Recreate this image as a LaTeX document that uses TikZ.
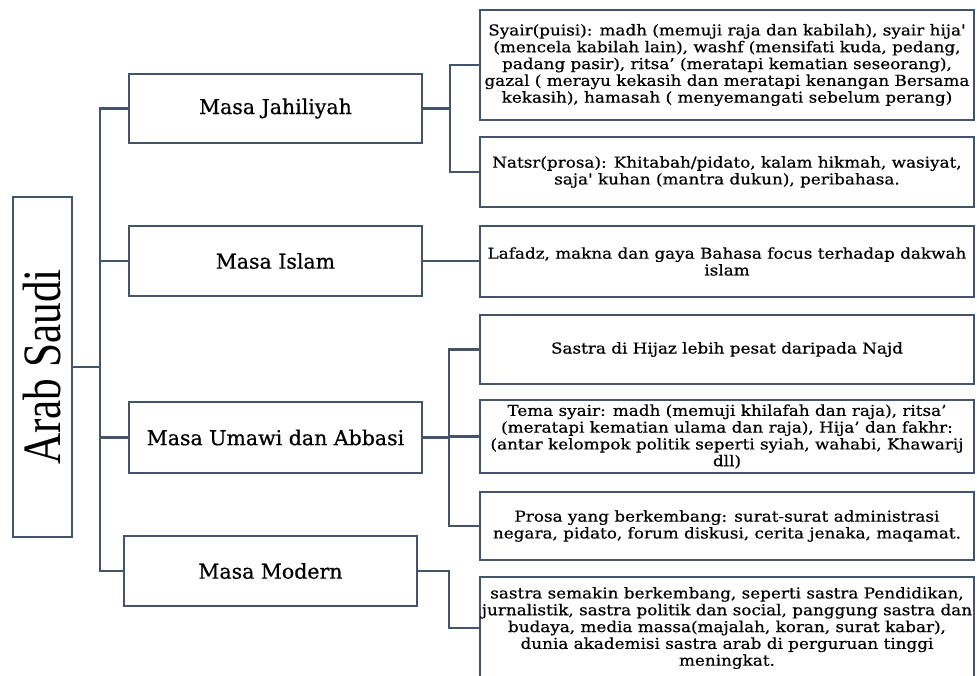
\documentclass[tikz,border=0pt]{standalone}
\usepackage{fontspec}
\setmainfont{DejaVu Serif}[FakeBold=0.5]
\newfontfamily\boxfont{DejaVu Serif}[FakeStretch=1.12,FakeBold=0.6]
\newfontfamily\masafont{DejaVu Serif}[FakeBold=0.6]
\newfontfamily\rootfont{Liberation Serif}[FakeStretch=0.8]
\definecolor{lineblue}{HTML}{44546A}
\begin{document}
\begin{tikzpicture}[x=1pt,y=-1pt,
  box/.style={draw=lineblue, line width=2.2pt, fill=white, inner sep=0pt, align=center, text=black},
  masabox/.style={box, minimum width=293pt, minimum height=70pt, font=\masafont\fontsize{20.5}{23}\selectfont},
  infobox/.style={box, minimum width=494pt, font=\boxfont\fontsize{15}{16.8}\selectfont},
  link/.style={draw=lineblue, line width=2.2pt}]
\useasboundingbox (0,0) rectangle (977,675);
\fill[white] (0,0) rectangle (977,675);

% root
\node[box, minimum width=59pt, minimum height=340pt] (root) at (42.5,367)
  {\rotatebox{90}{\rootfont\fontsize{54}{54}\selectfont Arab Saudi}};

% periods
\node[masabox, minimum height=69pt] (jah) at (275.5,108.5) {Masa Jahiliyah};
\node[masabox] (isl) at (275.5,261) {Masa Islam};
\node[masabox, minimum height=71pt] (uma) at (275.5,437.5) {Masa Umawi dan Abbasi};
\node[masabox] (mod) at (270.5,571) {Masa Modern};

% details
\node[infobox, minimum height=110pt] (b1) at (727,65) {Syair(puisi): madh (memuji raja dan kabilah), syair hija'\\(mencela kabilah lain), washf (mensifati kuda, pedang,\\padang pasir), ritsa’ (meratapi kematian seseorang),\\gazal ( merayu kekasih dan meratapi kenangan Bersama\\kekasih), hamasah ( menyemangati sebelum perang)};
\node[infobox, minimum height=70pt] (b2) at (727,172) {Natsr(prosa): Khitabah/pidato, kalam hikmah, wasiyat,\\saja' kuhan (mantra dukun), peribahasa.};
\node[infobox, minimum height=71pt] (b3) at (727,261.5) {Lafadz, makna dan gaya Bahasa focus terhadap dakwah\\islam};
\node[infobox, minimum height=69pt] (b4) at (727,349.5) {Sastra di Hijaz lebih pesat daripada Najd};
\node[infobox, minimum height=73pt] (b5) at (727,436.5) {Tema syair: madh (memuji khilafah dan raja), ritsa’\\(meratapi kematian ulama dan raja), Hija’ dan fakhr:\\(antar kelompok politik seperti syiah, wahabi, Khawarij\\dll)};
\node[infobox, minimum height=68pt] (b6) at (727,526) {Prosa yang berkembang: surat-surat administrasi\\negara, pidato, forum diskusi, cerita jenaka, maqamat.};
\node[infobox, minimum height=102pt] (b7) at (727,628) {sastra semakin berkembang, seperti sastra Pendidikan,\\jurnalistik, sastra politik dan social, panggung sastra dan\\budaya, media massa(majalah, koran, surat kabar),\\dunia akademisi sastra arab di perguruan tinggi\\meningkat.};

% junction columns
\coordinate (trunk) at (100,0);
\coordinate (bxa) at (450,0);
\coordinate (bxb) at (449,0);

% root to periods
\draw[link] (root.east) -- (root.east -| trunk);
\draw[link] (jah.west) -- (jah.west -| trunk) |- (mod.west);
\draw[link] (isl.west -| trunk) -- (isl.west);
\draw[link] (uma.west -| trunk) -- (uma.west);

% Jahiliyah
\draw[link] (jah.east) -- (jah.east -| bxa);
\draw[link] (b1.west) -- (b1.west -| bxa) |- (b2.west);
% Islam
\draw[link] (isl.east) -- (isl.east -| b3.west);
% Umawi
\draw[link] (uma.east) -- (uma.east -| bxb);
\draw[link] (b4.west) -- (b4.west -| bxb) |- (b6.west);
\draw[link] (b5.west) -- (b5.west -| bxb);
% Modern
\draw[link] (mod.east) -- (mod.east -| bxb) |- (b7.west);
\end{tikzpicture}
\end{document}
